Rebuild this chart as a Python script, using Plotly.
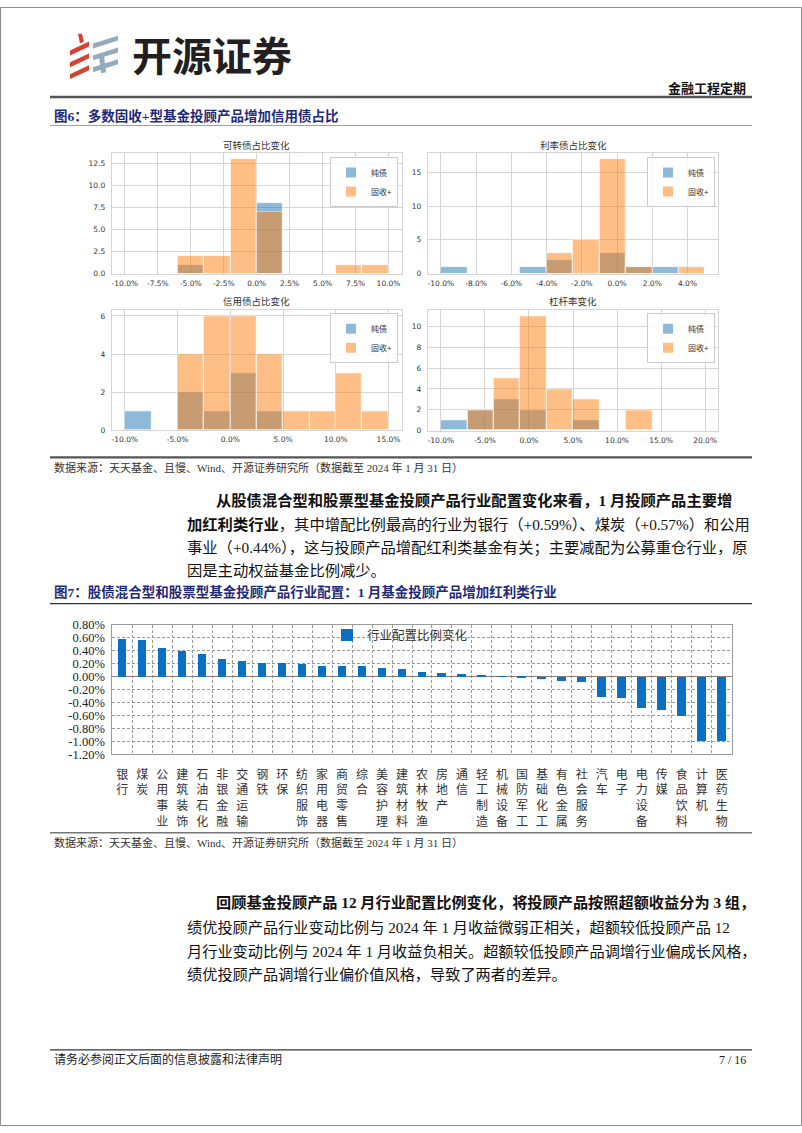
import plotly.graph_objects as go

W, H = 802, 1133


def fx(x):
    return x / W


def fy(y):
    return 1 - y / H


# ---------------- data ----------------
series_names = ["纯债", "固收+"]
hist_titles = ["可转债占比变化", "利率债占比变化", "信用债占比变化", "杠杆率变化"]

cb_edges = [-10, -8, -6, -4, -2, 0, 2, 4, 6, 8, 10]
cb_pure = [0, 0, 1, 0, 0, 8, 0, 0, 0, 0]
cb_plus = [0, 0, 2, 2, 13, 7, 0, 0, 1, 1]

rate_edges = [-10, -8.5, -7, -5.5, -4, -2.5, -1, 0.5, 2, 3.5, 5]
rate_pure = [1, 0, 0, 1, 2, 0, 3, 1, 1, 0]
rate_plus = [0, 0, 0, 0, 3, 5, 17, 1, 0, 1]

credit_edges = [-10, -7.5, -5, -2.5, 0, 2.5, 5, 7.5, 10, 12.5, 15]
credit_pure = [1, 0, 2, 1, 3, 1, 0, 0, 0, 0]
credit_plus = [0, 0, 4, 6, 6, 4, 1, 1, 3, 1]

lev_edges = [-10, -7, -4, -1, 2, 5, 8, 11, 14, 17, 20]
lev_pure = [1, 2, 3, 2, 0, 1, 0, 0, 0, 0]
lev_plus = [0, 2, 5, 11, 4, 3, 0, 2, 0, 0]

cb_xticks = [-10, -7.5, -5, -2.5, 0, 2.5, 5, 7.5, 10]
rate_xticks = [-10, -8, -6, -4, -2, 0, 2, 4]
credit_xticks = [-10, -5, 0, 5, 10, 15]
lev_xticks = [-10, -5, 0, 5, 10, 15, 20]

industries = ["银行", "煤炭", "公用事业", "建筑装饰", "石油石化", "非银金融", "交通运输",
              "钢铁", "环保", "纺织服饰", "家用电器", "商贸零售", "综合", "美容护理",
              "建筑材料", "农林牧渔", "房地产", "通信", "轻工制造", "机械设备", "国防军工",
              "基础化工", "有色金属", "社会服务", "汽车", "电子", "电力设备", "传媒",
              "食品饮料", "计算机", "医药生物"]
industry_change = [0.59, 0.57, 0.44, 0.40, 0.35, 0.28, 0.25, 0.22, 0.21, 0.20, 0.17,
                   0.17, 0.16, 0.14, 0.12, 0.08, 0.065, 0.035, 0.025, 0.01, -0.025,
                   -0.04, -0.07, -0.08, -0.32, -0.335, -0.48, -0.52, -0.61, -0.99, -1.00]
bar_series_name = "行业配置比例变化"
y_ticks_bar = [0.8, 0.6, 0.4, 0.2, 0.0, -0.2, -0.4, -0.6, -0.8, -1.0, -1.2]

hist_data = [
    (cb_edges, cb_pure, cb_plus, cb_xticks),
    (rate_edges, rate_pure, rate_plus, rate_xticks),
    (credit_edges, credit_pure, credit_plus, credit_xticks),
    (lev_edges, lev_pure, lev_plus, lev_xticks),
]

# ---------------- layout config (positions/styles) ----------------
hist_layout = [
    dict(x0=111.7, x1=401.7, y0=147.8, y1=270.0, xr=[-11, 11],
         yr=[0, 13.65], yd=2.5, yfmt=".1f", leg=(398, 152), title_y=140),
    dict(x0=427.7, x1=718.3, y0=147.8, y1=270.0, xr=[-10.75, 5.75],
         yr=[0, 17.85], yd=5, yfmt="d", leg=(715, 152), title_y=140),
    dict(x0=111.7, x1=401.7, y0=307.0, y1=428.5, xr=[-11.25, 16.25],
         yr=[0, 6.3], yd=2, yfmt="d", leg=(398, 310), title_y=298),
    dict(x0=427.7, x1=718.3, y0=307.0, y1=429.0, xr=[-11.5, 21.5],
         yr=[0, 11.55], yd=2, yfmt="d", leg=(715, 310), title_y=298),
]
hist_colors = ["#1f77b4", "#ff7f0e"]
grid_c = "#d5d5d5"
tick_font = dict(family="DejaVu Sans, Noto Sans CJK SC", size=7.5, color="#333333")
cjk_serif = "Liberation Serif, Noto Sans CJK SC"

fig = go.Figure()
layout_updates = {}
annotations = []
shapes = []

for i, ((edges, pure, plus, xticks), cfg) in enumerate(zip(hist_data, hist_layout)):
    k = i + 1
    sfx = "" if k == 1 else str(k)
    legname = "legend" if k == 1 else f"legend{k}"
    for s, (counts, name, col) in enumerate(zip([pure, plus], series_names, hist_colors)):
        xs, ws, ys = [], [], []
        for j, c in enumerate(counts):
            if c > 0:
                xs.append((edges[j] + edges[j + 1]) / 2)
                ws.append(edges[j + 1] - edges[j])
                ys.append(c)
        fig.add_trace(go.Bar(
            x=xs, y=ys, width=ws, name=name, opacity=0.5,
            marker=dict(color=col, line=dict(color="white", width=0.8)),
            xaxis=f"x{sfx}", yaxis=f"y{sfx}", legend=legname, showlegend=True,
        ))
    layout_updates[f"xaxis{sfx}"] = dict(
        domain=[fx(cfg["x0"]), fx(cfg["x1"])], anchor=f"y{sfx}", range=cfg["xr"],
        tickmode="array", tickvals=xticks, ticktext=[f"{v:.1f}%" for v in xticks],
        showgrid=True, gridcolor=grid_c, gridwidth=1, zeroline=False,
        showline=True, mirror=True, linecolor=grid_c, linewidth=1,
        ticks="", tickfont=tick_font, ticklabelstandoff=2,
    )
    layout_updates[f"yaxis{sfx}"] = dict(
        domain=[fy(cfg["y1"]), fy(cfg["y0"])], anchor=f"x{sfx}", range=cfg["yr"],
        tick0=0, dtick=cfg["yd"], tickformat=cfg["yfmt"],
        showgrid=True, gridcolor=grid_c, gridwidth=1, zeroline=False,
        showline=True, mirror=True, linecolor=grid_c, linewidth=1,
        ticks="", tickfont=tick_font, ticklabelstandoff=4,
    )
    layout_updates[legname] = dict(
        x=fx(cfg["leg"][0]), y=fy(cfg["leg"][1]), xanchor="right", yanchor="top",
        xref="paper", yref="paper", bgcolor="rgba(255,255,255,0.85)",
        bordercolor="#cccccc", borderwidth=1,
        font=dict(family="Noto Sans CJK SC", size=8, color="#333333"),
        itemwidth=30, tracegroupgap=0, itemsizing="constant",
    )
    annotations.append(dict(
        text=hist_titles[i], x=fx((cfg["x0"] + cfg["x1"]) / 2), y=fy(cfg["title_y"]),
        xref="paper", yref="paper", showarrow=False, xanchor="center", yanchor="middle",
        font=dict(family="Noto Sans CJK SC", size=9.5, color="#333333"),
    ))

# ---------------- bar chart ----------------
bar_x0, bar_x1, bar_y0, bar_y1 = 112.3, 731.7, 625.7, 756.7
bar_grid = "#9a9a9a"
fig.add_trace(go.Bar(
    x=industries, y=industry_change, name=bar_series_name, width=0.42,
    marker=dict(color="#0b6fc2", line=dict(width=0)),
    xaxis="x5", yaxis="y5", legend="legend5", showlegend=True,
))
layout_updates["xaxis5"] = dict(
    domain=[fx(bar_x0), fx(bar_x1)], anchor="y5", type="category",
    tickson="boundaries", showgrid=True, gridcolor=bar_grid, griddash="3px,2px",
    gridwidth=1, ticks="", tickmode="array", tickvals=industries,
    ticktext=["<br>".join(list(s)) for s in industries], tickangle=0,
    tickfont=dict(family=cjk_serif, size=12, color="#333333"),
    ticklabelstandoff=9, showline=True, mirror=True, linecolor=bar_grid,
    linewidth=1, zeroline=False,
    range=[-0.5, len(industries) - 0.5],
)
layout_updates["yaxis5"] = dict(
    domain=[fy(bar_y1), fy(bar_y0)], anchor="x5", range=[-1.2, 0.8],
    tickmode="array", tickvals=y_ticks_bar,
    ticktext=[f"{v:.2f}%" for v in y_ticks_bar],
    showgrid=True, gridcolor=bar_grid, griddash="3px,2px", gridwidth=1,
    zeroline=True, zerolinecolor="#8a7f7a", zerolinewidth=1.2,
    showline=True, mirror=True, linecolor=bar_grid, linewidth=1, ticks="",
    tickfont=dict(family="Liberation Serif", size=12.5, color="#222222"),
    ticklabelstandoff=4,
)
layout_updates["legend5"] = dict(
    x=fx(327), y=fy(621), xanchor="left", yanchor="top", xref="paper", yref="paper",
    bgcolor="rgba(255,255,255,0)", borderwidth=0,
    font=dict(family=cjk_serif, size=12.5, color="#333333"), itemwidth=30,
)

# ---------------- page decoration ----------------
def line(x0, y0, x1, y1, color, width):
    shapes.append(dict(type="line", xref="paper", yref="paper",
                       x0=fx(x0), y0=fy(y0), x1=fx(x1), y1=fy(y1),
                       line=dict(color=color, width=width)))


def poly(pts, color):
    d = "M " + " L ".join(f"{fx(a):.5f},{fy(b):.5f}" for a, b in pts) + " Z"
    shapes.append(dict(type="path", xref="paper", yref="paper", path=d,
                       fillcolor=color, line=dict(width=0)))


# page border
shapes.append(dict(type="rect", xref="paper", yref="paper", x0=fx(0.5), x1=fx(801.5),
                   y0=fy(1132.5), y1=fy(0.5), line=dict(color="#8c8c8c", width=1)))

line(50, 91, 752, 91, "#555555", 2.5)
line(50, 120, 752, 120, "#a0a0a0", 1.2)
line(50, 456, 752, 456, "#555555", 2.2)
line(50, 604, 752, 604, "#333333", 1.3)
line(50, 836, 752, 836, "#777777", 1.5)
line(50, 1056, 752, 1056, "#333333", 1.3)

# logo
red = "#d8412f"
blue = "#93abba"
for yy in (36, 48, 60):
    poly([(70, yy + 8), (89, yy - 1), (89, yy + 4), (70, yy + 13)], red)
poly([(78, 27), (82, 27), (84, 35), (80, 37)], red)
for yy in (31, 43, 55):
    poly([(93, yy + 6), (118, yy - 2), (118, yy + 3), (93, yy + 11)], blue)
poly([(99, 50), (104, 49), (106, 66), (101, 67)], blue)


def text(s, x, y, size, color="#111111", anchor="left", family=cjk_serif):
    annotations.append(dict(text=s, x=fx(x), y=fy(y), xref="paper", yref="paper",
                            showarrow=False, xanchor=anchor, yanchor="middle",
                            font=dict(family=family, size=size, color=color)))


text("<b>开源证券</b>", 130, 48, 40, "#231f20", family="Noto Sans CJK SC")
text("<b>金融工程定期</b>", 748, 83, 13, "#111111", anchor="right")
navy = "#1f2a78"
text("<b>图6：多数固收+型基金投顾产品增加信用债占比</b>", 52, 110, 13.5, navy)
src = "数据来源：天天基金、且慢、Wind、开源证券研究所（数据截至 2024 年 1 月 31 日）"
text(src, 52, 466, 11, "#333333")

para1 = [
    ("<b>从股债混合型和股票型基金投顾产品行业配置变化来看，1 月投顾产品主要增</b>", 214, 500),
    ("<b>加红利类行业</b>，其中增配比例最高的行业为银行（+0.59%）、煤炭（+0.57%）和公用", 185, 524),
    ("事业（+0.44%），这与投顾产品增配红利类基金有关；主要减配为公募重仓行业，原", 185, 548),
    ("因是主动权益基金比例减少。", 185, 571),
]
for s, x, y in para1:
    text(s, x, y, 15.3, "#111111")

text("<b>图7：股债混合型和股票型基金投顾产品行业配置：1 月基金投顾产品增加红利类行业</b>",
     52, 592, 13.5, navy)
text(src, 52, 846, 11, "#333333")

para2 = [
    ("<b>回顾基金投顾产品 12 月行业配置比例变化，将投顾产品按照超额收益分为 3 组，</b>", 214, 907),
    ("绩优投顾产品行业变动比例与 2024 年 1 月收益微弱正相关，超额较低投顾产品 12", 185, 932),
    ("月行业变动比例与 2024 年 1 月收益负相关。超额较低投顾产品调增行业偏成长风格，", 185, 956),
    ("绩优投顾产品调增行业偏价值风格，导致了两者的差异。", 185, 980),
]
for s, x, y in para2:
    text(s, x, y, 15.2, "#111111")

text("请务必参阅正文后面的信息披露和法律声明", 52, 1066, 12, "#222222")
text("7 / 16", 748, 1066, 12, "#222222", anchor="right")

fig.update_layout(
    width=W, height=H, autosize=False,
    margin=dict(l=0, r=0, t=0, b=0),
    paper_bgcolor="white", plot_bgcolor="white",
    barmode="overlay", bargap=0,
    annotations=annotations, shapes=shapes,
    **layout_updates,
)

fig.write_html("out.html")
